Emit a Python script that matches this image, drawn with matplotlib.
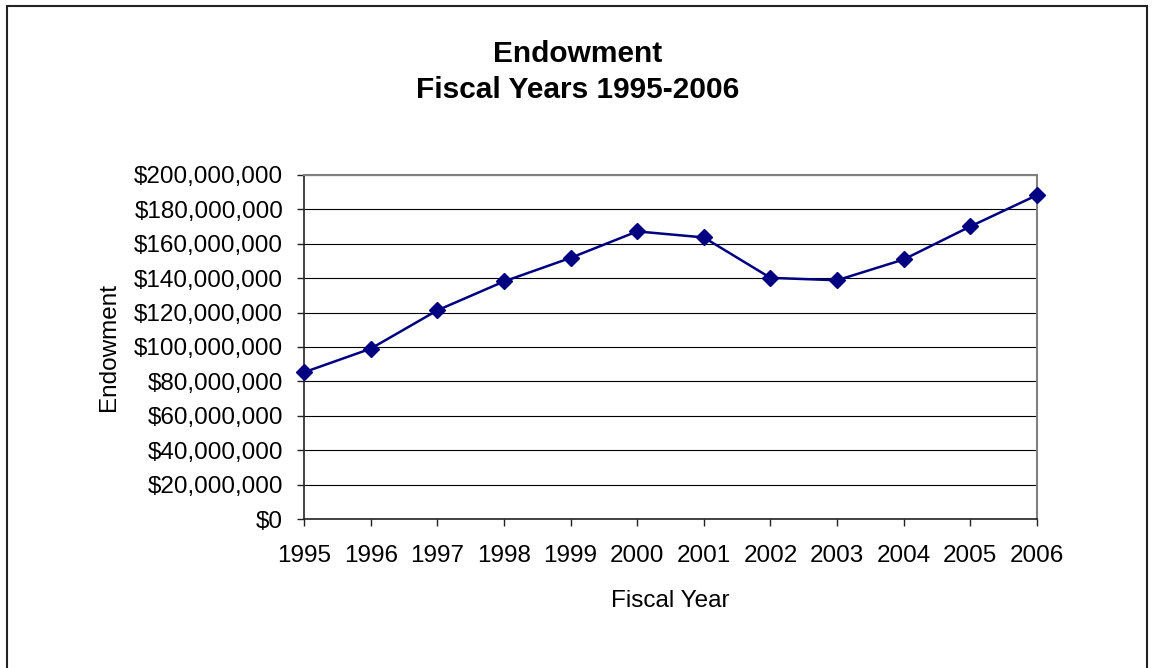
import matplotlib.pyplot as plt
from matplotlib.ticker import FuncFormatter, MultipleLocator
from matplotlib.patches import Rectangle

# Endowment by fiscal year (USD)
years = [1995, 1996, 1997, 1998, 1999, 2000, 2001, 2002, 2003, 2004, 2005, 2006]
endowment = [85.3e6, 99.0e6, 121.3e6, 138.1e6, 151.8e6, 167.2e6,
             163.7e6, 140.2e6, 138.8e6, 150.9e6, 170.1e6, 188.3e6]

plt.rcParams['font.family'] = ['Liberation Sans', 'DejaVu Sans']

fig = plt.figure(figsize=(11.52, 6.68), dpi=100)
fig.patch.set_facecolor('white')
# outer chart border
fig.patches.append(Rectangle((7 / 1152, -0.05), 1140 / 1152, 1.0 - 6 / 668 + 0.05,
                             transform=fig.transFigure, fill=False,
                             edgecolor='#222222', linewidth=1.5))

ax = fig.add_axes([304 / 1152, 1 - 519 / 668, 733 / 1152, 344 / 668])
ax.plot(years, endowment, color='#000080', linewidth=1.8, marker='D',
        markersize=8.5, markerfacecolor='#000080', markeredgecolor='#000080',
        zorder=3, clip_on=False)

ax.set_xlim(years[0], years[-1])
ax.set_ylim(0, 200e6)
ax.set_xticks(years)
ax.yaxis.set_major_locator(MultipleLocator(20e6))
ax.yaxis.set_major_formatter(FuncFormatter(lambda v, p: f"${v:,.0f}"))

ax.grid(True, axis='y', color='black', linewidth=0.8)
ax.set_axisbelow(True)
for s in ['top', 'right']:
    ax.spines[s].set_color('#808080')
    ax.spines[s].set_linewidth(1.5)
for s in ['left', 'bottom']:
    ax.spines[s].set_color('#222222')
    ax.spines[s].set_linewidth(1.2)

ax.tick_params(axis='both', direction='out', length=5, width=1,
               labelsize=17.5, color='#222222')
ax.tick_params(axis='y', pad=10)
ax.tick_params(axis='x', pad=14)

ax.set_xlabel('Fiscal Year', fontsize=17.5)
ax.xaxis.set_label_coords(0.5, -0.206)
ax.set_ylabel('Endowment', fontsize=17.5)
ax.yaxis.set_label_coords(-0.251, 0.5)

fig.text(578 / 1152, 1 - 72 / 668, 'Endowment\nFiscal Years 1995-2006',
         ha='center', va='center', fontsize=21.5, fontweight='bold',
         linespacing=1.32)

plt.savefig('out.png', dpi=100)
